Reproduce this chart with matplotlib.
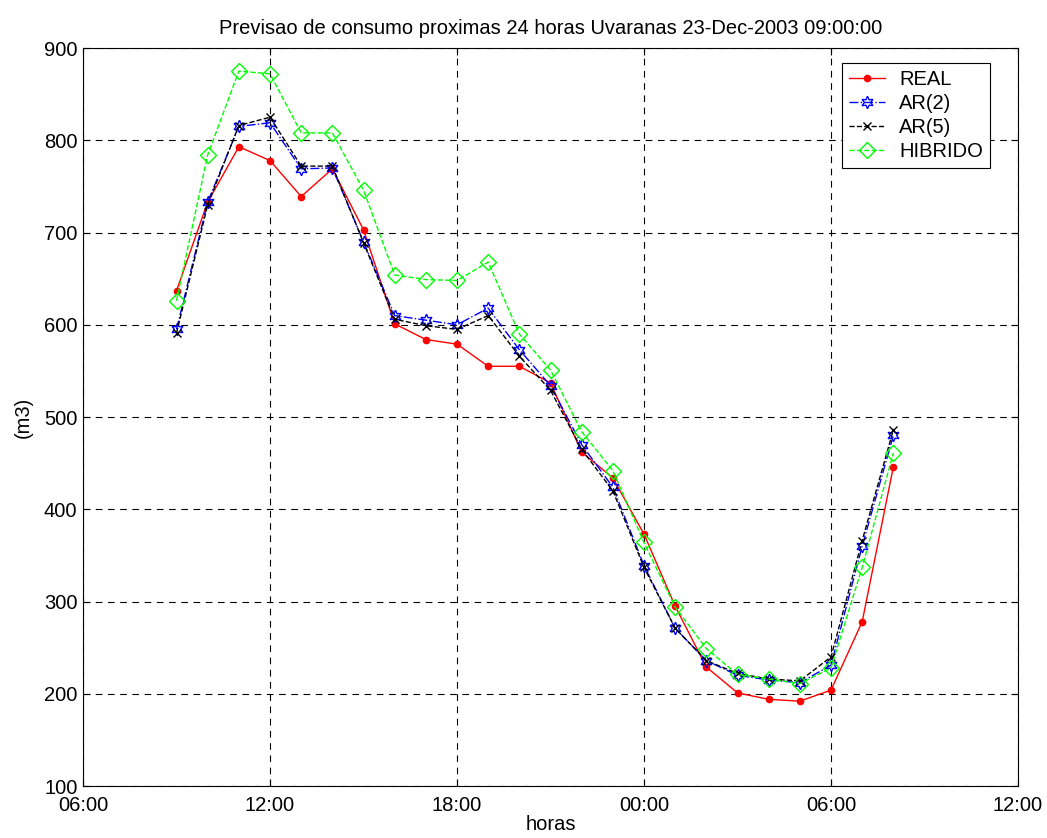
import matplotlib
matplotlib.use('Agg')
import matplotlib.pyplot as plt
from matplotlib.ticker import FixedLocator

# hours since 00:00 of 23-Dec (09:00 .. 08:00 next day)
horas = [9, 10, 11, 12, 13, 14, 15, 16, 17, 18, 19, 20, 21, 22, 23,
         24, 25, 26, 27, 28, 29, 30, 31, 32]

real = [637, 733, 793, 778, 739, 769, 703, 601, 584, 579, 555, 555, 537, 462,
        434, 373, 295, 229, 201, 194, 192, 204, 278, 446]
ar2 = [595, 733, 815, 819, 769, 770, 690, 610, 605, 600, 618, 573, 534, 470,
       424, 339, 271, 236, 220, 215, 212, 231, 360, 480]
ar5 = [591, 730, 816, 825, 772, 772, 689, 606, 599, 595, 610, 566, 529, 465,
       420, 337, 271, 236, 222, 216, 214, 240, 366, 486]
hibrido = [626, 784, 875, 872, 808, 808, 746, 654, 649, 648, 668, 590, 551, 484,
           442, 364, 294, 249, 221, 216, 211, 228, 337, 461]

xticks = [6, 12, 18, 24, 30, 36]
xticklabels = ['06:00', '12:00', '18:00', '00:00', '06:00', '12:00']
yticks = [100, 200, 300, 400, 500, 600, 700, 800, 900]

plt.rcParams['font.family'] = ['Liberation Sans', 'DejaVu Sans']
fs = 14.5

fig = plt.figure(figsize=(10.47, 8.38), dpi=100, facecolor='w')
ax = fig.add_axes([0.0793, 0.062, 0.893, 0.8807])

ax.plot(horas, real, color='red', linestyle='-', linewidth=1, marker='o',
        markersize=4.5, label='REAL')
ax.plot(horas, ar2, color='blue', linestyle='-.', linewidth=1, marker=(6, 1, 0),
        markersize=9, markerfacecolor='none', markeredgecolor='blue',
        markeredgewidth=1, label='AR(2)')
ax.plot(horas, ar5, color='black', linestyle='--', linewidth=1, marker='x',
        markersize=6, markeredgewidth=1, label='AR(5)')
ax.plot(horas, hibrido, color='#00ff00', linestyle='--', linewidth=1, marker='D',
        markersize=8, markerfacecolor='none', markeredgecolor='#00ff00',
        markeredgewidth=1, label='HIBRIDO')

ax.set_xlim(6, 36)
ax.set_ylim(100, 900)
ax.xaxis.set_major_locator(FixedLocator(xticks))
ax.set_xticklabels(xticklabels)
ax.set_yticks(yticks)
ax.tick_params(direction='in', top=True, right=True, length=5, labelsize=fs)
ax.tick_params(axis='x', pad=7.5)
ax.tick_params(axis='y', pad=4)
for sp in ax.spines.values():
    sp.set_linewidth(0.8)

# grid
ax.grid(True, color='black', linestyle=(0, (6, 5)), linewidth=0.8)

ax.set_xlabel('horas', fontsize=fs, labelpad=0)
ax.set_ylabel('(m3)', fontsize=fs, labelpad=8)
ax.set_title('Previsao de consumo proximas 24 horas Uvaranas 23-Dec-2003 09:00:00',
             fontsize=fs, pad=10)

leg = ax.legend(loc='upper right', bbox_to_anchor=(0.970, 0.980), borderaxespad=0,
                fancybox=False, edgecolor='black', framealpha=1, fontsize=fs,
                borderpad=0.35, labelspacing=0.25, handlelength=1.8,
                handletextpad=0.7)
leg.get_frame().set_linewidth(0.8)

plt.savefig('out.png', dpi=100)
